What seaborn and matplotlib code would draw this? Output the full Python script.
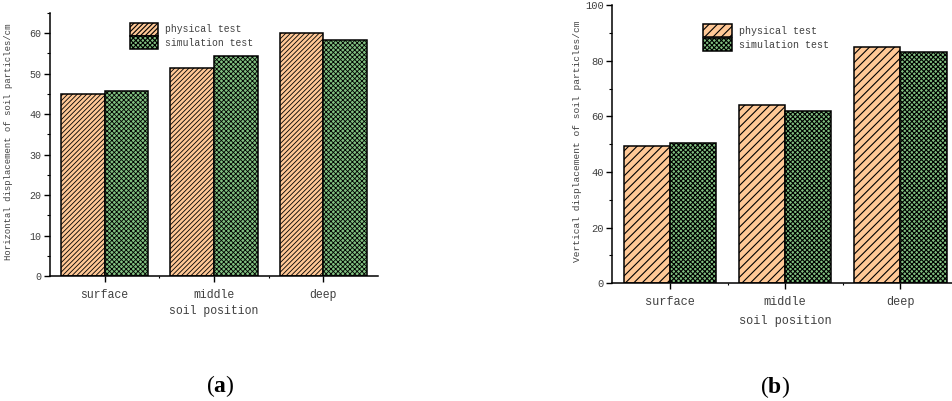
import matplotlib
matplotlib.use('Agg')
import matplotlib.pyplot as plt
import seaborn as sns
import pandas as pd
from matplotlib.ticker import MultipleLocator, FixedLocator

# ---------------- data ----------------
categories = ['surface', 'middle', 'deep']
series = ['physical test', 'simulation test']
horiz_physical = [45.0, 51.5, 60.0]
horiz_simulation = [45.6, 54.3, 58.3]
vert_physical = [49.4, 64.0, 85.0]
vert_simulation = [50.4, 61.8, 83.0]
x_label = 'soil position'
y_label_a = 'Horizontal displacement of soil particles/cm'
y_label_b = 'Vertical displacement of soil particles/cm'
colors = ['#FFC896', '#80C080']

sns.set_style('ticks')
plt.rcParams['font.family'] = ['Liberation Mono', 'DejaVu Sans Mono']
plt.rcParams['mathtext.fontset'] = 'custom'
plt.rcParams['mathtext.rm'] = 'Liberation Serif'
plt.rcParams['mathtext.bf'] = 'Liberation Serif:bold'
plt.rcParams['hatch.color'] = 'black'
plt.rcParams['hatch.linewidth'] = 0.8

fig = plt.figure(figsize=(9.53, 4.01), dpi=100)
ax_a = fig.add_axes([0.0525, 0.3117, 0.344, 0.656])
ax_b = fig.add_axes([0.6425, 0.2935, 0.3628, 0.694])

txt_color = '#404040'


def draw(ax, phys, sim, ylabel, ymax, major, minor, hatches, hatch_lw, ylab_x,
         xlab_y, leg_xy, fs_tick, fs_lab, fs_leg):
    df = pd.DataFrame({
        'position': categories * 2,
        'value': list(phys) + list(sim),
        'test': [series[0]] * 3 + [series[1]] * 3,
    })
    sns.barplot(data=df, x='position', y='value', hue='test', order=categories,
                hue_order=series, palette=colors, saturation=1, width=0.8,
                edgecolor='black', linewidth=1.1, ax=ax, legend=False, errorbar=None)
    for cont, h in zip(ax.containers, hatches):
        for bar in cont:
            bar.set_hatch(h)
            bar.set_edgecolor('black')
            if hasattr(bar, 'set_hatch_linewidth'):
                bar.set_hatch_linewidth(hatch_lw)
    ax.set_xlim(-0.5, 2.5)
    ax.set_ylim(0, ymax)
    ax.yaxis.set_major_locator(MultipleLocator(major))
    ax.yaxis.set_minor_locator(MultipleLocator(minor))
    ax.xaxis.set_minor_locator(FixedLocator([0.5, 1.5]))
    for s in ['top', 'right']:
        ax.spines[s].set_visible(False)
    for s in ['left', 'bottom']:
        ax.spines[s].set_color('black')
        ax.spines[s].set_linewidth(1.1)
    ax.tick_params(axis='both', which='major', direction='out', length=4, width=1,
                   color='black', labelcolor=txt_color)
    ax.tick_params(axis='y', which='minor', direction='out', length=2.5, width=0.8,
                   color='black', left=True)
    ax.tick_params(axis='x', which='minor', direction='out', length=1.5, width=0.8,
                   color='black', bottom=True)
    ax.tick_params(axis='y', labelsize=fs_tick, pad=2)
    ax.tick_params(axis='x', labelsize=fs_lab, pad=5)
    ax.set_xlabel(x_label, fontsize=fs_lab, color=txt_color, va='center')
    ax.set_ylabel(ylabel, fontsize=fs_tick - 0.8, color=txt_color, va='center')
    ax.xaxis.set_label_coords(0.5, xlab_y)
    ax.yaxis.set_label_coords(ylab_x, 0.51)
    leg = ax.legend(handles=list(ax.containers), labels=series, loc='upper left',
                    bbox_to_anchor=leg_xy, bbox_transform=fig.transFigure,
                    frameon=False, fontsize=fs_leg, handlelength=2.9,
                    handleheight=1.6, labelspacing=0.1, handletextpad=0.7,
                    borderpad=0, borderaxespad=0)
    for t in leg.get_texts():
        t.set_color(txt_color)


draw(ax_a, horiz_physical, horiz_simulation, y_label_a, 65, 10, 5,
     ['///////', 'xxxxxxx'], 0.6, -0.128, -0.132, (0.1364, 0.9426), 7.2, 8.3, 7.0)
draw(ax_b, vert_physical, vert_simulation, y_label_b, 100, 20, 10,
     ['////', 'xxxxxxx'], 0.8, -0.102, -0.134, (0.738, 0.939), 7.6, 8.6, 7.2)

fig.text(220 / 953, 1 - 386 / 401, r'($\mathbf{a}$)', family='Liberation Serif',
         fontsize=17, ha='center', va='center', color='black')
fig.text(775 / 953, 1 - 387 / 401, r'($\mathbf{b}$)', family='Liberation Serif',
         fontsize=17, ha='center', va='center', color='black')

fig.savefig('out.png', dpi=100)
